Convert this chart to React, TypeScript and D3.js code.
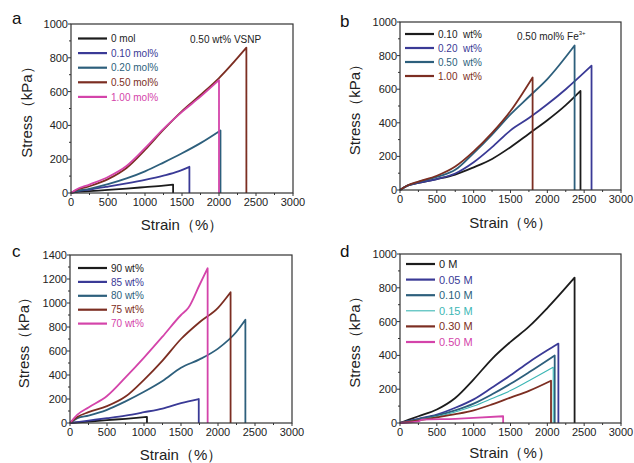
import React from "react";
import { scaleLinear, line as d3line, range as d3range, curveMonotoneX } from "d3";

type Pt = [number, number];

// ---- Panel a: 0.50 wt% VSNP, Fe3+ content ----
const aLabels = ["0 mol", "0.10 mol%", "0.20 mol%", "0.50 mol%", "1.00 mol%"];
const a0: Pt[] = [[0, 0], [60, 5], [250, 11], [500, 18], [750, 26], [1000, 35], [1250, 44], [1380, 50]];
const a1: Pt[] = [[0, 0], [60, 8], [250, 20], [500, 38], [750, 57], [1000, 78], [1250, 103], [1450, 128], [1600, 155]];
const a2: Pt[] = [[0, 0], [60, 10], [250, 25], [500, 52], [750, 86], [1000, 128], [1250, 180], [1500, 235], [1750, 295], [2020, 370]];
const a3: Pt[] = [[0, 0], [60, 15], [250, 40], [500, 82], [750, 148], [1000, 255], [1250, 375], [1500, 485], [1750, 580], [2000, 680], [2370, 860]];
const a4: Pt[] = [[0, 0], [60, 18], [250, 50], [500, 95], [750, 160], [1000, 265], [1250, 380], [1500, 480], [1750, 570], [2000, 668]];
const aBreak = [1380, 1600, 2020, 2370, 2000];

// ---- Panel b: 0.50 mol% Fe3+, VSNP content ----
const bLabels = ["0.10\u00a0\u00a0wt%", "0.20\u00a0\u00a0wt%", "0.50\u00a0\u00a0wt%", "1.00\u00a0\u00a0wt%"];
const b0: Pt[] = [[0, 0], [100, 25], [250, 42], [500, 65], [750, 92], [1000, 135], [1250, 185], [1500, 255], [1750, 335], [2000, 415], [2250, 505], [2450, 590]];
const b1: Pt[] = [[0, 0], [100, 25], [250, 42], [500, 65], [750, 98], [1000, 165], [1250, 255], [1500, 355], [1750, 428], [2000, 510], [2250, 600], [2600, 740]];
const b2: Pt[] = [[0, 0], [100, 26], [250, 48], [500, 78], [750, 120], [1000, 220], [1250, 330], [1500, 450], [1750, 555], [2000, 660], [2370, 860]];
const b3: Pt[] = [[0, 0], [100, 27], [250, 50], [500, 85], [750, 140], [1000, 230], [1250, 340], [1500, 470], [1800, 670]];
const bBreak = [2450, 2600, 2370, 1800];

// ---- Panel c: water content ----
const cLabels = ["90 wt%", "85 wt%", "80 wt%", "75 wt%", "70 wt%"];
const c0: Pt[] = [[0, 0], [250, 12], [500, 24], [750, 35], [1040, 50]];
const c1: Pt[] = [[0, 0], [250, 20], [500, 40], [750, 62], [1000, 90], [1250, 120], [1500, 165], [1740, 200]];
const c2: Pt[] = [[0, 0], [100, 40], [250, 62], [500, 110], [750, 180], [1000, 260], [1250, 350], [1500, 460], [1750, 530], [2000, 620], [2250, 760], [2370, 860]];
const c3: Pt[] = [[0, 0], [100, 50], [250, 90], [500, 140], [750, 220], [1000, 360], [1250, 520], [1500, 700], [1750, 840], [2000, 960], [2170, 1090]];
const c4: Pt[] = [[0, 0], [100, 70], [250, 130], [500, 225], [750, 380], [1000, 545], [1250, 720], [1500, 900], [1600, 960], [1750, 1150], [1860, 1290]];
const cBreak = [1040, 1740, 2370, 2170, 1860];

// ---- Panel d: NaCl concentration ----
const dLabels = ["0 M", "0.05 M", "0.10 M", "0.15 M", "0.30 M", "0.50 M"];
const d0: Pt[] = [[0, 0], [250, 40], [500, 80], [750, 148], [1000, 258], [1250, 380], [1500, 480], [1750, 570], [2000, 680], [2370, 860]];
const d1: Pt[] = [[0, 0], [250, 25], [500, 50], [750, 90], [1000, 140], [1250, 210], [1500, 282], [1750, 360], [2000, 430], [2150, 470]];
const d2: Pt[] = [[0, 0], [250, 22], [500, 45], [750, 75], [1000, 115], [1250, 170], [1500, 232], [1750, 300], [2100, 400]];
const d3: Pt[] = [[0, 0], [250, 18], [500, 38], [750, 65], [1000, 100], [1250, 145], [1500, 192], [1750, 250], [2080, 330]];
const d4: Pt[] = [[0, 0], [250, 15], [500, 33], [750, 52], [1000, 75], [1250, 110], [1500, 150], [1750, 190], [2050, 250]];
const d5: Pt[] = [[0, 0], [250, 10], [300, 20], [750, 25], [1000, 30], [1400, 40]];
const dBreak = [2370, 2150, 2100, 2080, 2050, 1400];

const xTicks = [0, 500, 1000, 1500, 2000, 2500, 3000];
const yTicks1000 = [0, 200, 400, 600, 800, 1000];
const yTicks1400 = [0, 200, 400, 600, 800, 1000, 1200, 1400];

const BLACK = "#1c1c1c";
const BLUE = "#3a3a96";
const TEAL = "#2d5f7c";
const BROWN = "#7c2e22";
const MAGENTA = "#d444aa";
const CYAN = "#3db7b5";

const FONT = "'Liberation Sans', Arial, sans-serif";

interface Series {
  label: string;
  pts: Pt[];
  brk: number;
  color: string;
  width?: number;
}

interface PanelProps {
  letter: string;
  left: number;
  top: number;
  right: number;
  bottom: number;
  yMax: number;
  yTicks: number[];
  series: Series[];
  legendX: number;
  legendY: number;
  legendDy: number;
  legendFont: number;
  note?: React.ReactNode;
  letterX: number;
  letterY: number;
  titleX: number;
  strainY: number;
}

function Panel(p: PanelProps) {
  const x = scaleLinear().domain([0, 3000]).range([p.left, p.right]);
  const y = scaleLinear().domain([0, p.yMax]).range([p.bottom, p.top]);
  const line = d3line<Pt>()
    .x((d) => x(d[0]))
    .y((d) => y(d[1]))
    .curve(curveMonotoneX);
  const xMinor = d3range(250, 3000, 500);
  const yStep = p.yTicks[1] - p.yTicks[0];
  const yMinor = d3range(yStep / 2, p.yMax, yStep);
  return (
    <g>
      <text x={p.letterX} y={p.letterY} fontSize={17} fontFamily={FONT} fill="#111">
        {p.letter}
      </text>
      {p.series.map((s, i) => {
        const pathD = line(s.pts) || "";
        const last = s.pts[s.pts.length - 1];
        const drop = `L${x(s.brk)},${y(last[1])}L${x(s.brk)},${y(0)}`;
        return (
          <path
            key={i}
            d={pathD + drop}
            fill="none"
            stroke={s.color}
            strokeWidth={s.width ?? 1.8}
            strokeLinejoin="round"
          />
        );
      })}
      <rect
        x={p.left}
        y={p.top}
        width={p.right - p.left}
        height={p.bottom - p.top}
        fill="none"
        stroke="#333"
        strokeWidth={1.2}
      />
      {xTicks.map((t) => (
        <g key={"xt" + t}>
          <line x1={x(t)} x2={x(t)} y1={p.bottom} y2={p.bottom + 3} stroke="#333" />
          <text
            x={x(t)}
            y={p.bottom + 13}
            textAnchor="middle"
            fontSize={11}
            fontFamily={FONT}
            fill="#222"
          >
            {t}
          </text>
        </g>
      ))}
      {xMinor.map((t) => (
        <line key={"xm" + t} x1={x(t)} x2={x(t)} y1={p.bottom} y2={p.bottom + 2} stroke="#333" />
      ))}
      {p.yTicks.map((t) => (
        <g key={"yt" + t}>
          <line x1={p.left - 3} x2={p.left} y1={y(t)} y2={y(t)} stroke="#333" />
          <text
            x={p.left - 3}
            y={y(t) + 4}
            textAnchor="end"
            fontSize={11}
            fontFamily={FONT}
            fill="#222"
          >
            {t}
          </text>
        </g>
      ))}
      {yMinor.map((t) => (
        <line key={"ym" + t} x1={p.left - 2} x2={p.left} y1={y(t)} y2={y(t)} stroke="#333" />
      ))}
      <text
        transform={`translate(${p.titleX},${(p.top + p.bottom) / 2}) rotate(-90)`}
        textAnchor="middle"
        fontSize={15}
        fontFamily={FONT}
        fill="#222"
      >
        Stress（kPa）
      </text>
      <text
        x={(p.left + p.right) / 2}
        y={p.strainY}
        textAnchor="middle"
        fontSize={15}
        fontFamily={FONT}
        fill="#222"
      >
        Strain（%）
      </text>
      {p.series.map((s, i) => (
        <g key={"lg" + i}>
          <line
            x1={p.legendX}
            x2={p.legendX + 29}
            y1={p.legendY + i * p.legendDy}
            y2={p.legendY + i * p.legendDy}
            stroke={s.color}
            strokeWidth={s.width ? s.width : 2.2}
          />
          <text
            x={p.legendX + 33}
            y={p.legendY + i * p.legendDy + p.legendFont * 0.36}
            fontSize={p.legendFont}
            fontFamily={FONT}
            fill={s.color === BLACK ? "#222" : s.color}
          >
            {s.label}
          </text>
        </g>
      ))}
      {p.note}
    </g>
  );
}

export default function App() {
  const aColors = [BLACK, BLUE, TEAL, BROWN, MAGENTA];
  const aPts = [a0, a1, a2, a3, a4];
  const aSeries: Series[] = aPts.map((pts, i) => ({ label: aLabels[i], pts, brk: aBreak[i], color: aColors[i] }));

  const bColors = [BLACK, BLUE, TEAL, BROWN];
  const bPts = [b0, b1, b2, b3];
  const bSeries: Series[] = bPts.map((pts, i) => ({ label: bLabels[i], pts, brk: bBreak[i], color: bColors[i] }));

  const cColors = [BLACK, BLUE, TEAL, BROWN, MAGENTA];
  const cPts = [c0, c1, c2, c3, c4];
  const cSeries: Series[] = cPts.map((pts, i) => ({ label: cLabels[i], pts, brk: cBreak[i], color: cColors[i] }));

  const dColors = [BLACK, BLUE, TEAL, CYAN, BROWN, MAGENTA];
  const dPts = [d0, d1, d2, d3, d4, d5];
  const dSeries: Series[] = dPts.map((pts, i) => ({
    label: dLabels[i],
    pts,
    brk: dBreak[i],
    color: dColors[i],
    width: i === 3 ? 1.1 : undefined,
  }));

  return (
    <svg width={634} height={463} style={{ position: "absolute", left: 0, top: 0, background: "#fff" }}>
      <Panel
        letter="a"
        left={71}
        top={24}
        right={293}
        bottom={193}
        yMax={1000}
        yTicks={yTicks1000}
        series={aSeries}
        legendX={78}
        legendY={38.5}
        legendDy={14.6}
        legendFont={10}
        letterX={12}
        letterY={24}
        titleX={32}
        strainY={230}
        note={
          <text x={190} y={43} fontSize={10} fontFamily={FONT} fill="#222">
            0.50 wt% VSNP
          </text>
        }
      />
      <Panel
        letter="b"
        left={400}
        top={22}
        right={621}
        bottom={190}
        yMax={1000}
        yTicks={yTicks1000}
        series={bSeries}
        legendX={405}
        legendY={34}
        legendDy={14}
        legendFont={10}
        letterX={340}
        letterY={27}
        titleX={360}
        strainY={228}
        note={
          <text x={517} y={40} fontSize={10} fontFamily={FONT} fill="#222">
            0.50 mol% Fe
            <tspan fontSize={6} dy={-5}>3+</tspan>
          </text>
        }
      />
      <Panel
        letter="c"
        left={70}
        top={255}
        right={292}
        bottom={423}
        yMax={1400}
        yTicks={yTicks1400}
        series={cSeries}
        legendX={78}
        legendY={268}
        legendDy={13.9}
        legendFont={10}
        letterX={12}
        letterY={257}
        titleX={29}
        strainY={460}
      />
      <Panel
        letter="d"
        left={400}
        top={254}
        right={621}
        bottom={423}
        yMax={1000}
        yTicks={yTicks1000}
        series={dSeries}
        legendX={406}
        legendY={264}
        legendDy={15.6}
        legendFont={11}
        letterX={340}
        letterY={257}
        titleX={360}
        strainY={458}
      />
    </svg>
  );
}
